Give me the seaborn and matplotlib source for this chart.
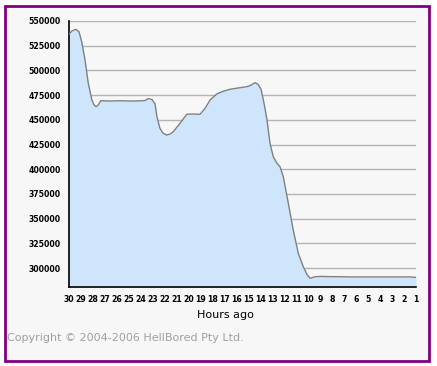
import matplotlib
matplotlib.use("Agg")
import matplotlib.pyplot as plt
import seaborn as sns
import pandas as pd
from matplotlib.patches import Rectangle

hours_ago = [30.0, 29.75, 29.42, 29.16, 28.94, 28.66, 28.39, 28.10, 27.91, 27.74,
             27.58, 27.35, 26.57, 25.74, 24.90, 24.07, 23.65, 23.37, 23.06, 22.81,
             22.65, 22.40, 22.14, 21.84, 21.56, 21.28, 20.72, 20.16, 19.75, 19.05,
             18.63, 18.21, 17.66, 17.13, 16.55, 15.71, 15.15, 14.79, 14.46, 14.21,
             13.95, 13.70, 13.45, 13.20, 12.93, 12.62, 12.37, 12.09, 11.67, 11.26,
             10.84, 10.42, 10.11, 9.86, 9.44, 9.02, 8.19, 7.35, 6.52, 5.68,
             4.84, 4.01, 3.17, 2.34, 1.50, 1.0]
values = [536500, 540000, 541600, 539000, 529000, 510500, 487000, 470700, 465000, 463300,
          464500, 469300, 469000, 469300, 469000, 469200, 469500, 471500, 470500, 466000,
          453000, 441400, 436500, 434600, 435600, 438000, 446500, 455600, 455900, 455600,
          461600, 470000, 476100, 478800, 480900, 482500, 483500, 485000, 487600, 486000,
          481000, 466700, 449800, 426200, 412600, 406000, 402600, 392400, 365500, 338500,
          315000, 301300, 293500, 289600, 291200, 291500, 291300, 291200, 291000, 291000,
          291000, 291000, 291000, 291000, 291000, 290500]
x_ticks = list(range(30, 0, -1))
y_ticks = [300000, 325000, 350000, 375000, 400000, 425000, 450000, 475000, 500000, 525000, 550000]

df = pd.DataFrame({"hours": hours_ago, "value": values})

sns.set_style("white")
W, H = 437, 366
fig = plt.figure(figsize=(W / 100, H / 100), dpi=100, facecolor="white")
frame = Rectangle((5.4 / W, 1 - 361 / H), (428.6 - 5.4) / W, (361 - 6.3) / H,
                  transform=fig.transFigure, facecolor="#f7f7f7",
                  edgecolor="#800080", linewidth=2.0, zorder=-5)
fig.patches.append(frame)

ax = fig.add_axes([69 / W, 1 - 286.5 / H, (416 - 69) / W, (286.5 - 21) / H])
ax.set_zorder(2)
ax.set_facecolor("#f7f7f7")
ymin = 281300
ax.fill_between(df["hours"], df["value"], ymin, color="#cfe5fc", linewidth=0, zorder=2)
sns.lineplot(data=df, x="hours", y="value", ax=ax, color="#808080", linewidth=1.0, zorder=3)

ax.set_xlim(30, 1)
ax.set_ylim(ymin, 550000)
ax.set_xticks(x_ticks)
ax.set_xticklabels([str(t) for t in x_ticks], fontsize=5.6, fontweight="bold")
ax.set_yticks(y_ticks)
ax.set_yticklabels([str(t) for t in y_ticks], fontsize=5.6, fontweight="bold")
ax.yaxis.grid(True, color="#b4b4b4", linewidth=1.0, zorder=1)
ax.set_axisbelow(True)
ax.tick_params(axis="x", direction="inout", length=6, width=1, pad=3, colors="black")
ax.tick_params(axis="y", direction="out", length=4, width=1, pad=2, colors="black")
for s in ["top", "right"]:
    ax.spines[s].set_visible(False)
for s in ["left", "bottom"]:
    ax.spines[s].set_color("black")
    ax.spines[s].set_linewidth(1.2)
ax.set_xlabel("")
ax.set_ylabel("")

fig.text(225 / W, 1 - 314.5 / H, "Hours ago", ha="center", va="center", fontsize=8, color="black")
fig.text(7 / W, 1 - 338 / H, "Copyright © 2004-2006 HellBored Pty Ltd.", ha="left", va="center",
         fontsize=8, color="#a0a0a0")

fig.savefig("out.png", dpi=100, facecolor="white")
